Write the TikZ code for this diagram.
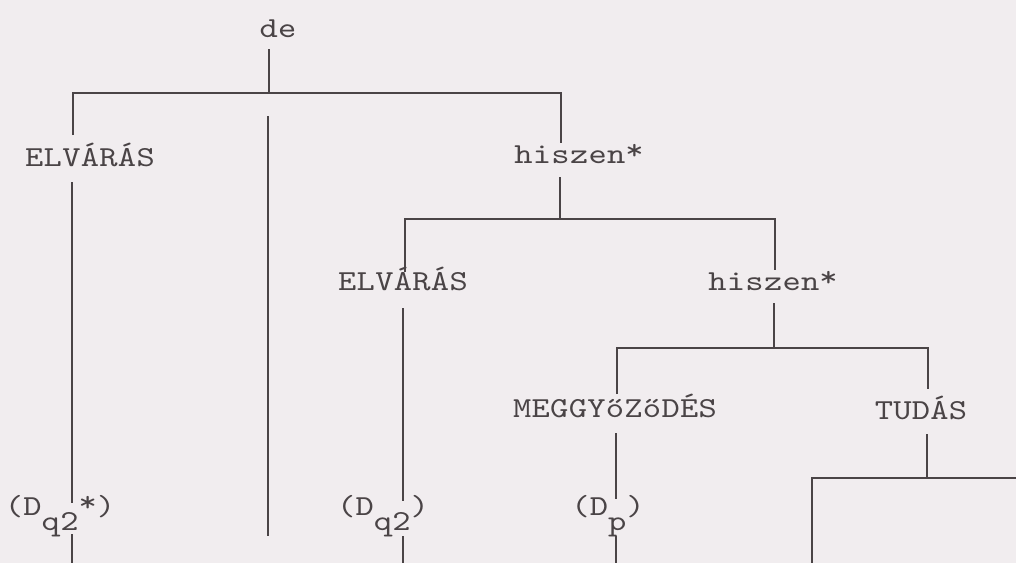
\documentclass[tikz,border=0pt]{standalone}
\usepackage{fontspec}
\newfontfamily\tw{lmmono10-regular}[Extension=.otf,FakeStretch=1.2,LetterSpace=1]
\definecolor{ink}{RGB}{74,68,70}
\definecolor{paper}{RGB}{241,237,239}
\newcommand{\lowr}[1]{\raisebox{-15pt}{#1}}
\newcommand{\hstar}{\raisebox{4pt}{*}}
\tikzset{
  lbl/.style={font=\tw\fontsize{29}{31}\selectfont, text=ink, inner sep=0pt, anchor=base},
  ln/.style={draw=ink, line width=1.1pt}
}
\begin{document}
\begin{tikzpicture}[x=1pt,y=-1pt]
\fill[paper] (0,0) rectangle (1016,563);
\useasboundingbox (0,0) rectangle (1016,563);
% labels
\node[lbl] (de) at (278,37) {de};
\node[lbl] (e1) at (90,166) {ELVÁRÁS};
\node[lbl] (h1) at (579,163) {hiszen\hstar};
\node[lbl] (e2) at (403,290) {ELVÁRÁS};
\node[lbl] (h2) at (773,290) {hiszen\hstar};
\node[lbl] (m) at (615,417) {MEGGYőZőDÉS};
\node[lbl] (t) at (921,419) {TUDÁS};
\node[lbl] (dqs) at (60,515) {(D\lowr{q2}\hstar)};
\node[lbl] (dq) at (383,515) {(D\lowr{q2})};
\node[lbl] (dp) at (608,515) {(D\lowr{p})};
% junction coordinates
\coordinate (deS) at (269,49);
\coordinate (b1) at (269,93);
\coordinate (e1t) at (73,135);
\coordinate (h1t) at (561,143);
\coordinate (e1b) at (72,182);
\coordinate (dqsT) at (72,503);
\coordinate (dqsB) at (72,534);
\coordinate (bot1) at (72,563);
\coordinate (midT) at (268,116);
\coordinate (midB) at (268,536);
\coordinate (h1b) at (560,177);
\coordinate (b2) at (560,219);
\coordinate (e2t) at (405,272);
\coordinate (h2t) at (775,270);
\coordinate (e2b) at (403,308);
\coordinate (dqT) at (403,501);
\coordinate (dqB) at (403,536);
\coordinate (bot2) at (403,563);
\coordinate (h2b) at (774,303);
\coordinate (b3) at (774,348);
\coordinate (mt) at (617,394);
\coordinate (tt) at (928,389);
\coordinate (mb) at (616,433);
\coordinate (dpT) at (616,499);
\coordinate (dpB) at (616,536);
\coordinate (bot3) at (616,563);
\coordinate (tb) at (927,434);
\coordinate (b4) at (927,478);
\coordinate (b4l) at (812,478);
\coordinate (b4r) at (1016,478);
\coordinate (bot4) at (812,563);
% connectors
\draw[ln] (deS) -- (b1);
\draw[ln] (e1t) |- (b1) -| (h1t);
\draw[ln] (e1b) -- (dqsT);
\draw[ln] (dqsB) -- (bot1);
\draw[ln] (midT) -- (midB);
\draw[ln] (h1b) -- (b2);
\draw[ln] (e2t) |- (b2) -| (h2t);
\draw[ln] (e2b) -- (dqT);
\draw[ln] (dqB) -- (bot2);
\draw[ln] (h2b) -- (b3);
\draw[ln] (mt) |- (b3) -| (tt);
\draw[ln] (mb) -- (dpT);
\draw[ln] (dpB) -- (bot3);
\draw[ln] (tb) -- (b4);
\draw[ln] (b4r) -- (b4l) -- (bot4);
\end{tikzpicture}
\end{document}
